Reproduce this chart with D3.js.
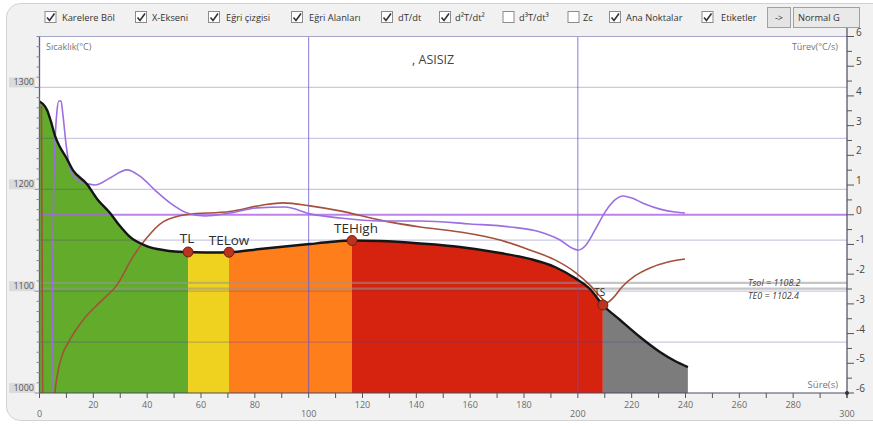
<!DOCTYPE html>
<html>
<head>
<meta charset="utf-8">
<script src="https://cdn.jsdelivr.net/npm/d3@7"></script>
<style>
  html, body { margin: 0; padding: 0; background: #ffffff; }
  svg { display: block; font-family: "Open Sans", "DejaVu Sans", sans-serif; }
</style>
</head>
<body>
<svg id="chart" width="873" height="426"></svg>
<script>
// ---- Cooling curve: time (s) and temperature (°C)
const coolTime = [0, 1.3, 2.8, 4.3, 5.8, 7.6, 9.8, 12.4, 17.6, 21.4, 26.2, 29.9, 33.6, 39.8, 45.9, 50.3,
  55.2, 63.3, 70.4, 81.9, 89.3, 100.5, 107.9, 116.1, 126.5, 141.4, 156.2, 171.1, 182.2, 191.5, 198.9,
  204.5, 209.3, 215.7, 223.1, 230.5, 236.1, 240.9];
const coolTemp = [1286.2, 1283.7, 1277.9, 1266.1, 1252.3, 1241.5, 1231.7, 1218.9, 1205.2, 1190.5, 1176.7, 1163.9, 1153.2, 1144.3, 1140.4, 1138.9,
  1138.4, 1138.0, 1138.2, 1141.4, 1143.4, 1146.3, 1148.2, 1149.7, 1149.2, 1146.8, 1143.4, 1137.5, 1131.6, 1123.7, 1112.9,
  1102.1, 1086.4, 1071.7, 1055.0, 1040.3, 1031.4, 1025.5];

// ---- First derivative dT/dt (°C/s)
const d1Time = [4.5, 4.8, 5.2, 5.8, 6.5, 7.2, 8.0, 8.7, 9.9, 11.3, 13.2, 15.8, 20.6, 26.2, 32.5, 37.3, 42.9, 48.5,
  54.8, 61.5, 70.8, 80.8, 91.2, 100.5, 111.6, 126.5, 141.4, 160, 174.8, 186, 193.4, 197.8, 200, 202.7, 206.4,
  210.1, 213.8, 216.8, 220.1, 224.9, 230.5, 236.1, 239.8];
const d1Value = [-7, -2.9, 0.5, 2.5, 3.5, 3.83, 3.83, 3.36, 2.35, 1.57, 1.24, 1.10, 1.0, 1.24, 1.51, 1.30, 0.83, 0.40,
  0.06, -0.04, 0.06, 0.23, 0.26, 0.03, -0.11, -0.21, -0.21, -0.31, -0.41, -0.58, -0.85, -1.12, -1.19, -1.05, -0.51,
  0.09, 0.50, 0.63, 0.56, 0.36, 0.19, 0.09, 0.06];

// ---- Second derivative d²T/dt²
const d2Time = [0.74, 1.04, 1.23, 5.39, 5.76, 6.5, 8.73, 10.2, 16.2, 22.5, 28.8, 34.7, 39.2, 45.9, 54.8, 70.8, 83.0,
  90.5, 100.5, 111.6, 126.5, 141.4, 156.2, 171.1, 182.2, 191.5, 198.9, 204.5, 208.2, 210.8, 213.1, 216.4, 221.2,
  226.8, 233.5, 239.8];
const d2Value = [3.66, -2.87, -6.91, -7.25, -6.0, -5.46, -4.65, -4.38, -3.54, -2.94, -2.36, -1.42, -0.85, -0.24, 0.01, 0.11, 0.33,
  0.40, 0.30, 0.13, -0.18, -0.41, -0.58, -0.85, -1.19, -1.52, -1.93, -2.37, -2.74, -2.95, -2.80, -2.43, -2.06,
  -1.79, -1.59, -1.49];

// ---- Characteristic points
const pointNames = ["TL", "TELow", "TEHigh", "TS"];
const pointTime = [55.2, 70.4, 116.1, 209.3];
const pointTemp = [1138.4, 1138.2, 1149.7, 1086.4];

// ---- Solidification zones (area under the curve)
const zoneStart = [0, 55.2, 70.4, 116.1, 209.3];
const zoneEnd = [55.2, 70.4, 116.1, 209.3, 240.9];

// ---- Reference temperature lines
const refNames = ["Tsol", "TE0"];
const refTemp = [1108.2, 1102.4];

// ---- Axis tick values
const timeTicks = [0, 20, 40, 60, 80, 100, 120, 140, 160, 180, 200, 220, 240, 260, 280, 300];
const tempTicks = [1000, 1100, 1200, 1300];
const tempGrid = [1050, 1100, 1150, 1200, 1250, 1300];
const derivTicks = [-6, -5, -4, -3, -2, -1, 0, 1, 2, 3, 4, 5, 6];

// ---- Toolbar options
const optionLabels = ["Karelere Böl", "X-Ekseni", "Eğri çizgisi", "Eğri Alanları", "dT/dt", "d²T/dt²", "d³T/dt³", "Zc", "Ana Noktalar", "Etiketler"];
const optionChecked = [true, true, true, true, true, true, false, false, true, true];

// ---------------------------------------------------------------------------
const svg = d3.select("#chart");
const P = { left: 39.5, right: 847, top: 36.5, bottom: 393 };

const x = d3.scaleLinear().domain([0, 300]).range([P.left, P.right]);
const yT = d3.scaleLinear().domain([1000, 1350]).range([P.bottom, P.top]);
const yD = d3.scaleLinear().domain([-6, 6]).range([P.bottom, P.top]);

const zoneColors = ["#62ab2b", "#efd21f", "#ff7e1c", "#d6230f", "#7c7c7c"];

const cool = coolTime.map((t, i) => ({ t, v: coolTemp[i] }));
const d1 = d1Time.map((t, i) => ({ t, v: d1Value[i] }));
const d2 = d2Time.map((t, i) => ({ t, v: d2Value[i] }));

// background frame
svg.append("rect").attr("x", 6.5).attr("y", 3.5).attr("width", 900).attr("height", 417)
  .attr("rx", 14).attr("fill", "#f1f1f1").attr("stroke", "#d2d2d2");
svg.append("rect").attr("x", P.left).attr("y", P.top)
  .attr("width", P.right - P.left).attr("height", P.bottom - P.top).attr("fill", "#ffffff");

const defs = svg.append("defs");
defs.append("clipPath").attr("id", "plotClip").append("rect")
  .attr("x", P.left).attr("y", P.top).attr("width", P.right - P.left).attr("height", P.bottom - P.top);
zoneStart.forEach((s, i) => {
  defs.append("clipPath").attr("id", "zone" + i).append("rect")
    .attr("x", x(s)).attr("y", P.top).attr("width", x(zoneEnd[i]) - x(s)).attr("height", P.bottom - P.top);
});

// zone fills under the cooling curve
const area = d3.area().x(d => x(d.t)).y0(yT(1000)).y1(d => yT(d.v)).curve(d3.curveMonotoneX);
zoneStart.forEach((s, i) => {
  svg.append("path").datum(cool).attr("d", area).attr("fill", zoneColors[i])
    .attr("clip-path", "url(#zone" + i + ")");
});

// horizontal grid
svg.append("g").selectAll("line").data(tempGrid).join("line")
  .attr("x1", P.left).attr("x2", P.right)
  .attr("y1", d => yT(d)).attr("y2", d => yT(d))
  .attr("stroke", "rgba(70,60,150,0.28)").attr("stroke-width", 1.2);

// reference temperature lines
svg.append("g").selectAll("line").data(refTemp).join("line")
  .attr("x1", P.left).attr("x2", P.right)
  .attr("y1", d => yT(d)).attr("y2", d => yT(d))
  .attr("stroke", "rgba(150,150,150,0.55)").attr("stroke-width", 2.2);

// vertical grid
svg.append("g").selectAll("line").data([100, 200]).join("line")
  .attr("x1", d => x(d)).attr("x2", d => x(d))
  .attr("y1", P.top).attr("y2", P.bottom)
  .attr("stroke", "rgba(100,80,210,0.75)").attr("stroke-width", 1);

// zero line of derivative axis
svg.append("line").attr("x1", P.left).attr("x2", P.right)
  .attr("y1", yD(0)).attr("y2", yD(0))
  .attr("stroke", "rgba(170,100,230,0.8)").attr("stroke-width", 2);

const line = d3.line().x(d => x(d.t)).y(d => yD(d.v)).curve(d3.curveMonotoneX);
const gCurves = svg.append("g").attr("clip-path", "url(#plotClip)");
gCurves.append("path").datum(d2).attr("d", line).attr("fill", "none")
  .attr("stroke", "#a5503a").attr("stroke-width", 1.6);
gCurves.append("path").datum(d1).attr("d", line).attr("fill", "none")
  .attr("stroke", "#9c6ee0").attr("stroke-width", 1.6);

const coolLine = d3.line().x(d => x(d.t)).y(d => yT(d.v)).curve(d3.curveMonotoneX);
gCurves.append("path").datum(cool).attr("d", coolLine).attr("fill", "none")
  .attr("stroke", "#151515").attr("stroke-width", 2.4);

// characteristic points
svg.append("g").selectAll("circle").data(pointTime).join("circle")
  .attr("cx", d => x(d)).attr("cy", (d, i) => yT(pointTemp[i])).attr("r", 5)
  .attr("fill", "#b8351f").attr("stroke", "#7a1c10").attr("stroke-width", 1);

const labelOffset = [[-1, -9], [0, -7], [4, -8], [-3, -9]];
const labelSize = [13.5, 13.5, 13.5, 10];
svg.append("g").selectAll("text").data(pointNames).join("text")
  .attr("x", (d, i) => x(pointTime[i]) + labelOffset[i][0])
  .attr("y", (d, i) => yT(pointTemp[i]) + labelOffset[i][1])
  .attr("text-anchor", "middle").attr("font-size", (d, i) => labelSize[i])
  .attr("fill", "#2e2e2e").text(d => d);

// reference labels, stacked at the right end of their lines
svg.append("g").selectAll("text").data(refNames).join("text")
  .attr("x", 748).attr("y", (d, i) => 286 + i * 13)
  .attr("font-size", 9).attr("font-style", "italic").attr("fill", "#444")
  .text((d, i) => d + " = " + refTemp[i].toFixed(1));

// plot borders
svg.append("line").attr("x1", P.left).attr("x2", P.right).attr("y1", P.top).attr("y2", P.top)
  .attr("stroke", "#a6a4c8").attr("stroke-width", 1.2);
svg.append("line").attr("x1", P.left).attr("x2", P.left).attr("y1", P.top).attr("y2", P.bottom)
  .attr("stroke", "#5c5a8c").attr("stroke-width", 1.3);

// x axis
const gx = svg.append("g");
gx.append("line").attr("x1", P.left).attr("x2", P.right).attr("y1", P.bottom).attr("y2", P.bottom)
  .attr("stroke", "#4a4a66").attr("stroke-width", 1.2);
gx.selectAll("line.tk").data(d3.range(0, 301, 10)).join("line").attr("class", "tk")
  .attr("x1", d => x(d)).attr("x2", d => x(d)).attr("y1", P.bottom).attr("y2", P.bottom + 5)
  .attr("stroke", "#555");
gx.selectAll("text").data(timeTicks).join("text")
  .attr("x", d => x(d)).attr("y", d => d % 100 === 0 ? 417 : 408)
  .attr("text-anchor", "middle").attr("font-size", 9).attr("fill", "#6a6a6a").text(d => d);

// left axis
const gl = svg.append("g");
gl.selectAll("line").data(d3.range(1000, 1351, 10)).join("line")
  .attr("x1", d => P.left - (d % 100 === 0 ? 5 : 3)).attr("x2", P.left)
  .attr("y1", d => yT(d)).attr("y2", d => yT(d)).attr("stroke", "#8a8a9a");
gl.selectAll("rect").data(tempTicks).join("rect")
  .attr("x", 9).attr("y", d => yT(d) - 10).attr("width", 26).attr("height", 10)
  .attr("fill", "#d6d6d6").attr("opacity", 0.8);
gl.selectAll("text").data(tempTicks).join("text")
  .attr("x", 34).attr("y", d => yT(d) - 2).attr("text-anchor", "end")
  .attr("font-size", 9).attr("fill", "#555").text(d => d);

// right axis
const gr = svg.append("g");
gr.append("line").attr("x1", P.right).attr("x2", P.right).attr("y1", 27).attr("y2", P.bottom + 5)
  .attr("stroke", "#4a4a5a").attr("stroke-width", 1.2);
gr.selectAll("line.tk").data(d3.range(-6, 6.01, 0.5)).join("line").attr("class", "tk")
  .attr("x1", P.right).attr("x2", d => P.right + (Number.isInteger(d) ? 7 : 5))
  .attr("y1", d => yD(d)).attr("y2", d => yD(d)).attr("stroke", "#555");
gr.selectAll("text").data(derivTicks).join("text")
  .attr("x", 856).attr("y", d => yD(d) - 1).attr("font-size", 10).attr("fill", "#444")
  .text(d => d);
svg.append("circle").attr("cx", P.right).attr("cy", P.bottom).attr("r", 2).attr("fill", "#333");

// axis titles and caption
svg.append("text").attr("x", 46).attr("y", 50).attr("font-size", 9).attr("fill", "#777").text("Sıcaklık(°C)");
svg.append("text").attr("x", 838).attr("y", 50).attr("text-anchor", "end").attr("font-size", 9).attr("fill", "#777").text("Türev(°C/s)");
svg.append("text").attr("x", 838).attr("y", 388).attr("text-anchor", "end").attr("font-size", 9.5).attr("fill", "#777").text("Süre(s)");
svg.append("text").attr("x", 412).attr("y", 64).attr("font-size", 12.5).attr("fill", "#444").text(", ASISIZ");

// toolbar
const boxX = [45, 135.5, 208.5, 291.5, 381.5, 439.5, 503, 568, 609.5, 702];
const textX = [62, 152, 226, 309, 398, 455, 519, 583, 626, 721];
const tb = svg.append("g");
optionLabels.forEach((lab, i) => {
  tb.append("rect").attr("x", boxX[i]).attr("y", 11.5).attr("width", 11).attr("height", 11)
    .attr("fill", "#ffffff").attr("stroke", "#8c8c8c");
  if (optionChecked[i]) {
    tb.append("path").attr("d", `M${boxX[i] + 2},${17.5} L${boxX[i] + 4.5},${20.5} L${boxX[i] + 9.5},${13.5}`)
      .attr("fill", "none").attr("stroke", "#333").attr("stroke-width", 1.6);
  }
  tb.append("text").attr("x", textX[i]).attr("y", 20.5).attr("font-size", 9.3).attr("fill", "#333").text(lab);
});
tb.append("rect").attr("x", 767.5).attr("y", 7.5).attr("width", 23).attr("height", 20)
  .attr("fill", "#e4e4e4").attr("stroke", "#a0a0a0");
tb.append("text").attr("x", 779).attr("y", 21).attr("text-anchor", "middle").attr("font-size", 9).attr("fill", "#333").text("->");
tb.append("rect").attr("x", 793.5).attr("y", 7.5).attr("width", 66).attr("height", 20)
  .attr("fill", "#e9e9e9").attr("stroke", "#a0a0a0");
tb.append("text").attr("x", 798).attr("y", 21).attr("font-size", 9.3).attr("fill", "#333").text("Normal G");
</script>
</body>
</html>
